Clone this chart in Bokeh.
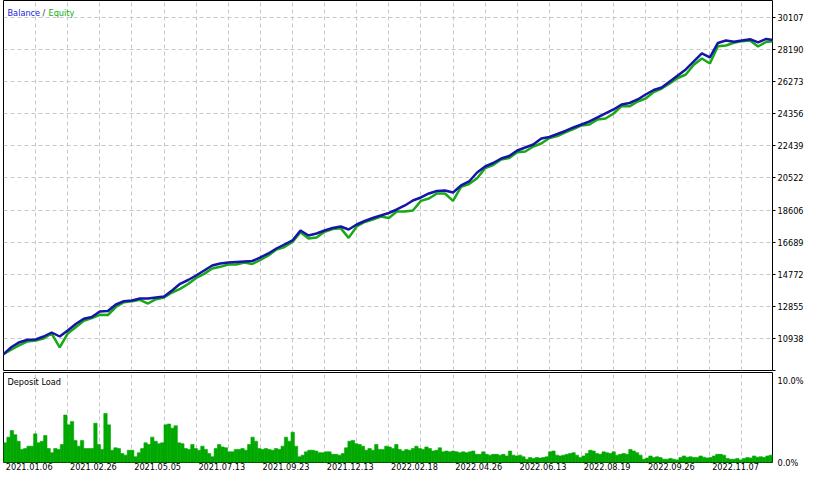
from bokeh.plotting import figure
from bokeh.models import Range1d, FixedTicker, Grid, Label, ColumnDataSource
from bokeh.layouts import column
from bokeh.embed import file_html
from bokeh.resources import INLINE

# ---------------- data ----------------
balance = [10000, 10425, 10712, 10855, 10873, 11052, 11291, 11052, 11411, 11799,
           12110, 12217, 12546, 12576, 12964, 13161, 13203, 13322, 13322, 13382,
           13442, 13800, 14201, 14427, 14696, 14995, 15294, 15413, 15473, 15503,
           15533, 15563, 15772, 16011, 16309, 16548, 16787, 17385, 17086, 17205,
           17385, 17534, 17624, 17444, 17743, 17952, 18131, 18281, 18430, 18639,
           18878, 19177, 19356, 19595, 19744, 19774, 19655, 20073, 20312, 20850,
           21208, 21417, 21686, 21835, 22164, 22343, 22522, 22881, 22970, 23149,
           23329, 23538, 23717, 23896, 24135, 24374, 24613, 24912, 25001, 25211,
           25509, 25778, 25927, 26286, 26644, 27003, 27481, 27959, 27720, 28586,
           28735, 28657, 28735, 28813, 28616, 28825, 28760]
equity = [10000, 10275, 10532, 10755, 10813, 10932, 11231, 10400, 11231, 11599,
          11990, 12157, 12346, 12336, 12814, 13101, 13163, 13242, 13022, 13282,
          13382, 13680, 13901, 14187, 14546, 14795, 15114, 15213, 15353, 15353,
          15473, 15383, 15622, 15891, 16249, 16398, 16707, 17285, 16906, 16965,
          17305, 17474, 17524, 16944, 17623, 17892, 18031, 18221, 18130, 18519,
          18518, 18577, 19156, 19295, 19594, 19594, 19155, 19993, 20162, 20500,
          21108, 21297, 21626, 21715, 22064, 22103, 22402, 22581, 22910, 23029,
          23249, 23438, 23657, 23716, 24015, 24074, 24373, 24812, 24801, 25091,
          25269, 25658, 25867, 26166, 26494, 26703, 27281, 27659, 27360, 28386,
          28435, 28597, 28695, 28733, 28376, 28645, 28700]
trade_step = 10  # trades between balance samples

deposit_load = [2.4, 3.1, 3.9, 3.4, 2.6, 1.6, 1.7, 2.0, 2.0, 3.5, 2.4, 2.6, 3.3, 1.7, 1.2, 1.7, 1.6, 2.2, 5.8, 4.6,
                5.0, 2.7, 2.0, 2.7, 1.7, 1.7, 1.7, 4.8, 2.2, 1.6, 6.0, 4.6, 1.5, 1.8, 1.7, 1.1, 0.9, 1.5, 1.5, 0.7,
                1.2, 1.7, 2.4, 2.2, 3.1, 2.6, 2.3, 2.4, 4.6, 4.7, 4.2, 4.5, 2.4, 2.3, 1.7, 1.6, 2.2, 1.7, 1.5, 2.0,
                1.6, 1.1, 0.7, 1.7, 2.2, 1.9, 1.8, 1.3, 1.3, 1.6, 1.6, 1.7, 1.5, 2.2, 3.1, 2.6, 1.7, 1.6, 1.7, 1.6,
                1.5, 1.7, 1.6, 2.0, 3.1, 2.6, 3.7, 2.0, 0.7, 0.9, 1.3, 1.5, 1.5, 1.4, 1.2, 1.2, 1.3, 1.3, 1.0, 1.0,
                0.9, 1.1, 1.8, 2.6, 2.7, 2.3, 2.2, 2.0, 1.5, 1.7, 1.5, 2.2, 1.6, 1.6, 2.0, 1.9, 1.7, 2.2, 1.6, 1.4,
                1.6, 1.5, 1.7, 2.0, 1.7, 1.6, 1.9, 1.7, 1.4, 1.5, 1.8, 1.3, 1.4, 1.3, 1.4, 1.3, 1.2, 1.3, 1.2, 1.3,
                1.4, 1.0, 1.0, 1.3, 1.0, 0.9, 1.0, 1.0, 0.9, 1.0, 0.8, 1.4, 0.9, 0.8, 0.9, 0.7, 0.4, 0.6, 0.5, 0.6,
                0.55, 0.6, 0.7, 1.3, 1.4, 0.9, 0.8, 0.9, 1.0, 1.1, 1.2, 0.9, 0.6, 0.8, 1.1, 1.5, 1.4, 1.1, 1.0, 1.3,
                1.2, 1.1, 1.3, 0.9, 1.0, 1.1, 1.0, 1.6, 1.4, 1.2, 0.9, 0.4, 0.55, 0.8, 0.6, 0.7, 0.6, 0.4, 0.4, 0.5,
                0.4, 0.3, 0.6, 0.8, 0.65, 0.7, 0.6, 0.6, 0.8, 0.65, 0.55, 0.6, 0.8, 1.0, 1.0, 0.9, 0.5, 0.4, 0.4, 0.5,
                0.3, 0.5, 0.6, 0.55, 0.8, 0.65, 0.7, 0.6, 0.8, 0.9]

y_ticks = [9021, 10938, 12855, 14772, 16689, 18606, 20522, 22439, 24356, 26273, 28190, 30107]
y_top = 31123
x_total = 958          # trades on the x axis
grid_trades = list(range(40, 960, 40))
date_trades = [0, 80, 160, 240, 320, 400, 480, 560, 640, 720, 800, 880]
date_labels = ["2021.01.06", "2021.02.26", "2021.05.05", "2021.07.13", "2021.09.23", "2021.12.13",
               "2022.02.18", "2022.04.26", "2022.06.13", "2022.08.19", "2022.09.26", "2022.11.07"]
load_ticks = [0, 10]
load_tick_labels = ["0.0%", "10.0%"]
load_top = 11

# ---------------- style ----------------
FONT = "DejaVu Sans"
FS = "8.2px"
GRID_COL = "#c8c8c8"
BAL_COL = "#1515a8"
EQ_COL = "#18a818"
LOAD_COL = "#00a800"
W = 809
FRAME_W = 769
TOP_FRAME_H = 370

bal_x = [i * trade_step for i in range(len(balance))]
src = ColumnDataSource(dict(x=bal_x, bal=balance, eq=equity))

top = figure(width=W, height=TOP_FRAME_H + 2, output_backend="svg", toolbar_location=None,
             x_range=Range1d(0, x_total), y_range=Range1d(y_ticks[0], y_top),
             x_axis_location=None, y_axis_location="right",
             min_border_left=1, min_border_right=W - FRAME_W - 1, min_border_top=1, min_border_bottom=1)
top.grid.visible = False
top.outline_line_color = "black"
top.outline_line_width = 1
top.background_fill_color = "white"
top.border_fill_color = "white"

top.add_layout(Grid(dimension=0, ticker=FixedTicker(ticks=grid_trades),
                    grid_line_color=GRID_COL, grid_line_dash="4 3", grid_line_width=1))
top.add_layout(Grid(dimension=1, ticker=FixedTicker(ticks=y_ticks[1:]),
                    grid_line_color=GRID_COL, grid_line_dash="4 3", grid_line_width=1))

ya = top.yaxis[0]
ya.ticker = FixedTicker(ticks=y_ticks)
ya.major_label_overrides = {y_ticks[0]: ""}   # lowest label drawn just above so it is not cut
ya.axis_line_color = None
ya.major_tick_out = 3
ya.major_tick_in = 0
ya.minor_tick_out = 0
ya.minor_tick_in = 0
ya.major_tick_line_color = "black"
ya.major_label_standoff = 2
ya.major_label_text_font = FONT
ya.major_label_text_font_size = FS
ya.major_label_text_color = "black"

top.add_layout(Label(x=FRAME_W + 5, y=1, x_units="screen", y_units="screen",
                     text=str(y_ticks[0]), text_color="black", text_font=FONT,
                     text_font_size=FS, text_baseline="bottom", text_align="left"))

top.line("x", "eq", source=src, color=EQ_COL, line_width=2.5)
top.line("x", "bal", source=src, color=BAL_COL, line_width=2.5)

for txt, xs, col in [("Balance", 4, "#1a1ae0"), ("/", 39, "#303060"), ("Equity", 45, "#10b010")]:
    top.add_layout(Label(x=xs, y=TOP_FRAME_H - 12, x_units="screen", y_units="screen", text=txt,
                         text_color=col, text_font=FONT, text_font_size=FS,
                         text_baseline="middle", text_align="left"))

# ---------------- deposit load ----------------
bar_w = x_total / len(deposit_load)
load_x = [(i + 0.5) * bar_w for i in range(len(deposit_load))]
lsrc = ColumnDataSource(dict(x=load_x, top=deposit_load))

bot = figure(width=W, height=106, output_backend="svg", toolbar_location=None,
             x_range=top.x_range, y_range=Range1d(0, load_top),
             y_axis_location="right",
             min_border_left=1, min_border_right=W - FRAME_W - 1, min_border_top=1, min_border_bottom=15)
bot.grid.visible = False
bot.outline_line_color = "black"
bot.outline_line_width = 1
bot.background_fill_color = "white"
bot.border_fill_color = "white"
bot.add_layout(Grid(dimension=0, ticker=FixedTicker(ticks=grid_trades),
                    grid_line_color=GRID_COL, grid_line_dash="4 3", grid_line_width=1))

bot.vbar(x="x", top="top", bottom=0, width=bar_w, source=lsrc,
         fill_color=LOAD_COL, line_color=LOAD_COL, line_width=0.6)

# date labels left-aligned at their trade position: shift the centred tick by half a label
label_shift = 32
xa = bot.xaxis[0]
shifted = [t + label_shift for t in date_trades]
xa.ticker = FixedTicker(ticks=shifted)
xa.major_label_overrides = {s: lab for s, lab in zip(shifted, date_labels)}
xa.axis_line_color = None
xa.major_tick_line_color = None
xa.minor_tick_line_color = None
xa.major_tick_out = 0
xa.major_tick_in = 0
xa.major_label_standoff = 0
xa.major_label_text_font = FONT
xa.major_label_text_font_size = FS
xa.major_label_text_color = "black"

yb = bot.yaxis[0]
yb.ticker = FixedTicker(ticks=load_ticks)
yb.major_label_overrides = {t: lab for t, lab in zip(load_ticks, load_tick_labels)}
yb.axis_line_color = None
yb.major_tick_line_color = None
yb.minor_tick_line_color = None
yb.major_tick_out = 0
yb.major_label_standoff = 5
yb.major_label_text_font = FONT
yb.major_label_text_font_size = FS
yb.major_label_text_color = "black"

bot.add_layout(Label(x=4, y=81, x_units="screen", y_units="screen", text="Deposit Load",
                     text_color="black", text_font=FONT, text_font_size=FS,
                     text_baseline="middle", text_align="left"))

layout = column(top, bot, spacing=0, margin=(-1, 0, 0, 2))
open("out.html", "w").write(file_html(layout, INLINE))
